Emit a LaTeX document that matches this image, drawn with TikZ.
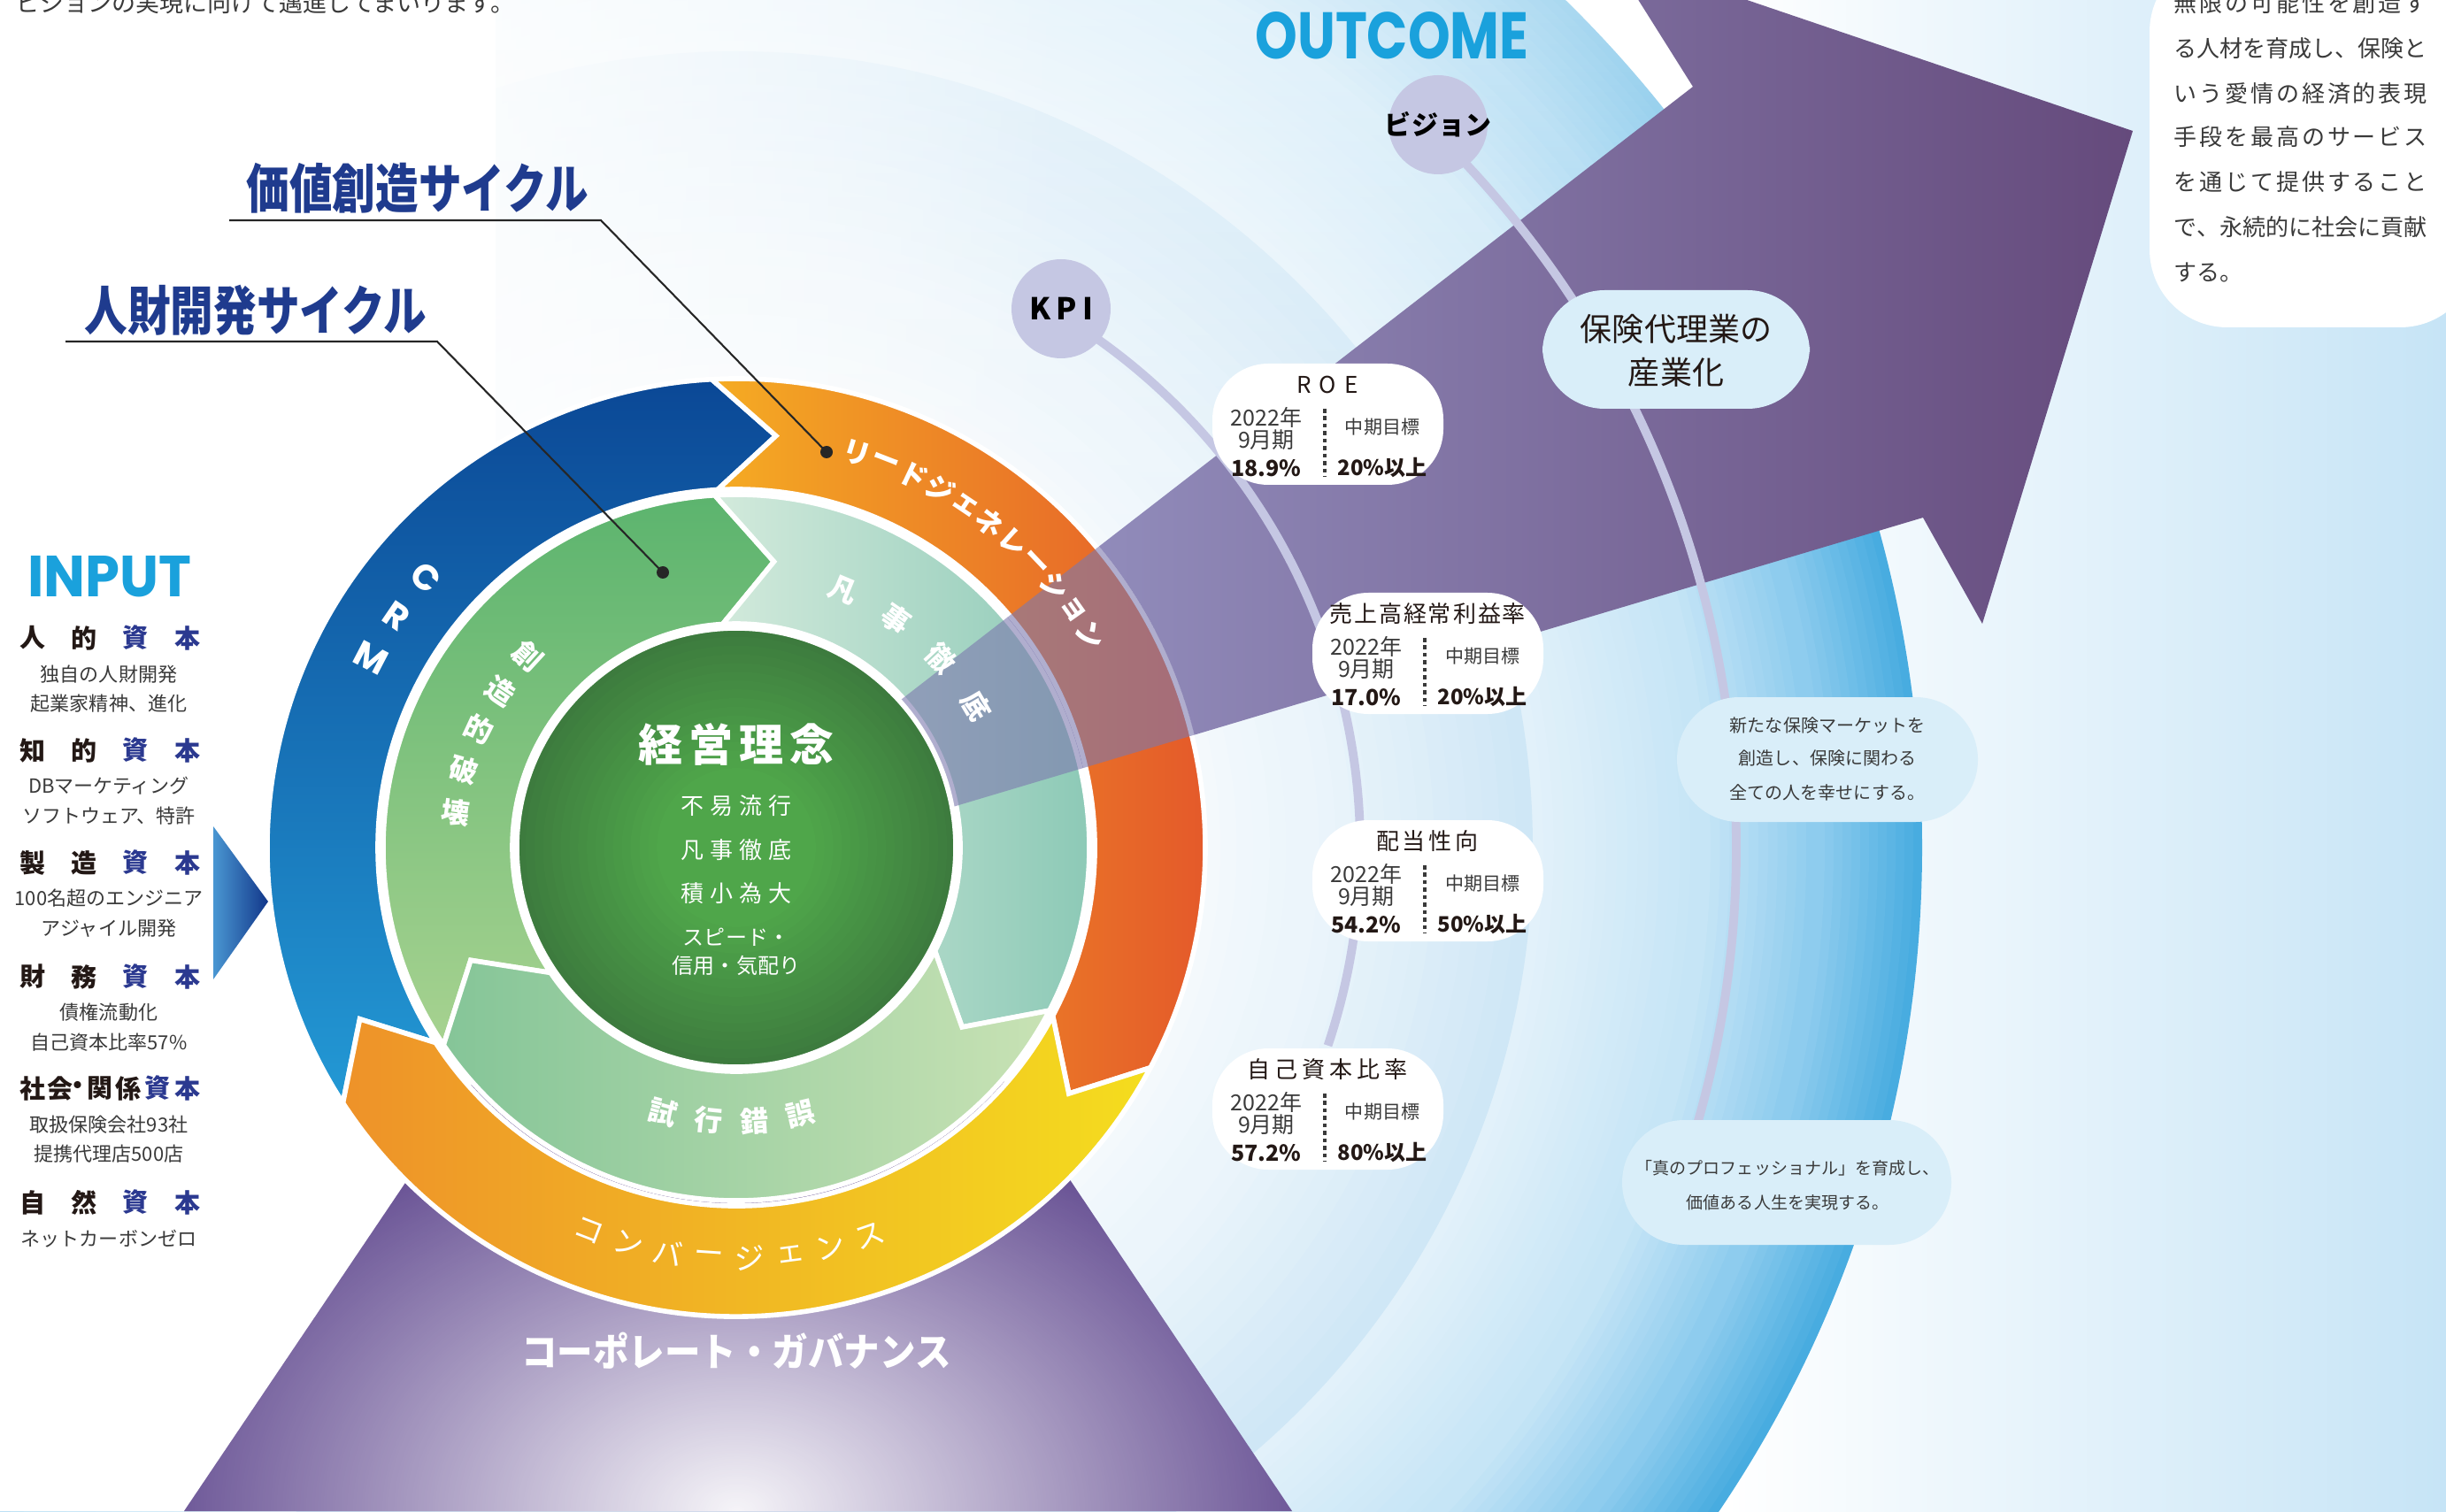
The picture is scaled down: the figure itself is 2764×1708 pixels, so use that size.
\documentclass[tikz,border=0pt]{standalone}
\usepackage{fontspec}
\usepackage{graphicx}
\setmainfont{Noto Sans CJK JP}
\newfontfamily\pop{Poppins}
\usetikzlibrary{fadings}

\definecolor{navyH}{HTML}{1F3B8E}
\definecolor{capblue}{HTML}{2B3990}
\definecolor{cyanT}{HTML}{1AA1DC}
\definecolor{txt}{HTML}{231815}
\definecolor{txt2}{HTML}{3A3A3A}
\definecolor{lav}{HTML}{C5C7E3}
\definecolor{boxb}{HTML}{D9EEF9}
\definecolor{crmT}{HTML}{0B4896}
\definecolor{crmB}{HTML}{2399D5}
\definecolor{ldL}{HTML}{F5AC23}
\definecolor{ldR}{HTML}{E4592A}
\definecolor{cvL}{HTML}{EE9229}
\definecolor{cvR}{HTML}{F4DD1E}
\definecolor{szT}{HTML}{5CB46E}
\definecolor{szB}{HTML}{A7D290}
\definecolor{bjL}{HTML}{D3EADC}
\definecolor{bjR}{HTML}{8CC9B6}
\definecolor{skL}{HTML}{85C598}
\definecolor{skR}{HTML}{C8E2B4}
\definecolor{cenin}{HTML}{4FA64A}
\definecolor{cenout}{HTML}{3D7B3E}
\definecolor{arrL}{HTML}{A0A2D0}
\definecolor{arrM}{HTML}{7A72A8}
\definecolor{arrR}{HTML}{654A7C}
\definecolor{arrT}{HTML}{7C78AE}
\definecolor{cgE}{HTML}{4A2F7F}
\definecolor{cgM}{HTML}{BCAAD4}
\definecolor{triL}{HTML}{4A97D2}
\definecolor{triR}{HTML}{12378A}
\definecolor{bgR}{HTML}{C6E4F6}
\definecolor{b2a}{HTML}{E2F1FA}
\definecolor{b2b}{HTML}{C6E5F6}
\definecolor{b2c}{HTML}{8ECCEE}
\definecolor{b2d}{HTML}{48ACE0}
\definecolor{d1a}{HTML}{ECF5FB}
\definecolor{d1b}{HTML}{CFE7F6}

\tikzfading[name=fadeR, left color=transparent!0, right color=transparent!100]
\tikzfading[name=fadeUp, bottom color=transparent!100, top color=transparent!0]
\tikzfading[name=glowfade, inner color=transparent!5, outer color=transparent!100]

\newdimen\pxu \pxu=0.01cm
\newcommand\fpx[1]{\fontsize{\fpeval{#1*0.28453}pt}{\fpeval{#1*0.28453*1.2}pt}\selectfont}
\def\sprA#1{\ifx#1\relax\else#1\hfil\expandafter\sprA\fi}
\newcommand\spread[2]{\makebox[#1\pxu][s]{\sprA#2\relax\unskip}}

% stepped radial gradient: centre, r from, r to, steps, colour at r-from, colour at r-to
\newcommand\radsteps[6]{%
\foreach \k in {0,...,#4}{%
  \pgfmathsetmacro\rr{#2+(#3-#2)*\k/(#4+1)}%
  \pgfmathtruncatemacro\pp{100-100*\k/#4}%
  \fill[#5!\pp!#6] #1 circle[radius=\rr];}}

% segment: tail angle, head angle, r inner, r outer, tip offset, style
\newcommand\seg[6]{%
\path[#6] (#1:#4) arc[start angle=#1, end angle=#2, radius=#4] -- ({#2-#5}:{(#3+#4)/2}) -- (#2:#3) arc[start angle=#2, end angle=#1, radius=#3] -- ({#1-#5}:{(#3+#4)/2}) -- cycle;}

% KPI box: x0, y0 (from top), title width, title, current, target
\newcommand\kpibox[6]{%
\fill[white, rounded corners=18] (#1,1708-#2) rectangle (#1+261,1708-#2-137);
\node[text=txt, font=\fpx{26}, inner sep=0] at (#1+130,1708-#2-24) {\spread{#3}{#4}};
\node[text=txt2, font=\fpx{25}, inner sep=0] at (#1+61,1708-#2-61) {2022年};
\node[text=txt2, font=\fpx{25}, inner sep=0] at (#1+61,1708-#2-86) {9月期};
\node[text=txt, font=\bfseries\fpx{25}, inner sep=0] at (#1+61,1708-#2-118) {#5};
\draw[txt2, line width=1.3pt, dash pattern=on 1.3pt off 1.1pt] (#1+127,1708-#2-51) -- (#1+127,1708-#2-128);
\node[text=txt2, font=\fpx{21}, inner sep=0] at (#1+192,1708-#2-72) {中期目標};
\node[text=txt, font=\bfseries\fpx{24}, inner sep=0] at (#1+192,1708-#2-118) {#6};}

\newcommand\caph[5]{%
\node[font=\bfseries\fpx{29}, text=txt, inner sep=0] at (37,#1) {#2};
\node[font=\bfseries\fpx{29}, text=txt, inner sep=0] at (95,#1) {#3};
\node[font=\bfseries\fpx{29}, text=capblue, inner sep=0] at (153,#1) {#4};
\node[font=\bfseries\fpx{29}, text=capblue, inner sep=0] at (212,#1) {#5};}
\newcommand\subl[2]{\node[font=\fpx{22}, text=txt2, inner sep=0] at (123,#1) {#2};}

\begin{document}
\begin{tikzpicture}[x=0.01cm, y=0.01cm,
  ringtxt/.style={text=white, font=\bfseries\fpx{32}, inner sep=0},
  segS/.style={draw=white, line width=1.6pt},
  track/.style={draw=lav, line width=2.8pt},
  lead/.style={draw=black!85, line width=0.6pt}]
\useasboundingbox (0,0) rectangle (2764,1708);
% ---------- background ----------
\fill[white] (0,0) rectangle (2764,1708);
\shade[left color=white, right color=bgR] (1950,0) rectangle (2764,1708);
% outcome band (r 900..1340)
\radsteps{(832,750)}{1340}{1220}{11}{b2d}{b2c}
\radsteps{(832,750)}{1220}{1090}{11}{b2c}{b2b}
\radsteps{(832,750)}{1090}{900}{15}{b2b}{b2a}
% KPI disc (r 0..900)
\radsteps{(832,750)}{900}{640}{13}{d1b}{d1a}
\radsteps{(832,750)}{640}{380}{13}{d1a}{white}
\fill[white] (832,750) circle[radius=380];
\fill[white] (0,0) rectangle (560,1708);
\fill[white, path fading=fadeR] (400,0) rectangle (1200,1708);
\fill[white, path fading=fadeUp, opacity=0.55] (560,1050) rectangle (1960,1708);

% ---------- corporate governance ----------
\shade[left color=cgE, middle color=cgM, right color=cgE] (208,0) -- (1460,0) -- (1086,558) -- (584,558) -- cycle;
\begin{scope}
\clip (208,0) -- (1460,0) -- (1086,558) -- (584,558) -- cycle;
\fill[white, path fading=glowfade] (832,0) ellipse[x radius=800, y radius=560];
\end{scope}
\node (cg) [text=white, font=\bfseries\fpx{44}, inner sep=0] at (832,181) {\scalebox{0.92}[1]{コーポレート・ガバナンス}};

% ---------- arrow (opaque) ----------
\shade[left color=arrL, middle color=arrM, right color=arrR] (832,723) -- (2173,1123) -- (2240,1003) -- (2410,1560) -- (1818,1761) -- (1913,1610) -- (832,773) -- cycle;

% ---------- rings ----------
\begin{scope}[shift={(832,750)}]
\seg{213}{93}{405}{530}{8.5}{segS, top color=crmT, bottom color=crmB}
\seg{93}{-28}{405}{530}{8.5}{segS, left color=ldL, right color=ldR}
\seg{-28}{-147}{405}{530}{8.5}{segS, left color=cvL, right color=cvR}
\seg{214}{93.5}{253}{399}{11}{segS, top color=szT, bottom color=szB}
\seg{93.5}{-27.5}{253}{399}{11}{segS, left color=bjL, right color=bjR}
\seg{-27.5}{-146}{253}{399}{11}{segS, left color=skL, right color=skR}
\end{scope}

% ---------- arrow (translucent over rings) ----------
\begin{scope}
\clip (832,750) circle[radius=533];
\fill[arrT, opacity=0.6] (832,723) -- (2173,1123) -- (2240,1003) -- (2410,1560) -- (1818,1761) -- (1913,1610) -- (832,773) -- cycle;
\end{scope}

% ---------- central circle ----------
\radsteps{(832,750)}{248}{80}{16}{cenout}{cenin}
\fill[cenin] (832,750) circle[radius=80];
\draw[white, line width=1.6pt] (832,750) circle[radius=248];

% ---------- ring labels ----------
\begin{scope}[shift={(832,750)}]
\foreach \ch/\a [count=\i] in {C/139, R/145.7, M/152.5}
  \node (crm\i) [ringtxt, font=\pop\bfseries\fpx{40}, rotate=\a-180] at (\a:465) {\ch};
\foreach \ch [count=\i from 0] in {リ,ー,ド,ジ,ェ,ネ,レ,ー,シ,ョ,ン}
  {\pgfmathsetmacro\a{73-4.2*\i}
   \node (lg\i) [ringtxt, rotate=\a-90] at (\a:466) {\ch};}
\foreach \ch [count=\i from 0] in {コ,ン,バ,ー,ジ,ェ,ン,ス}
  {\pgfmathsetmacro\a{-111+5.71*\i}
   \node (cv\i) [ringtxt, font=\fpx{34}, rotate=\a+90] at (\a:464) {\ch};}
\foreach \ch [count=\i from 0] in {創,造,的,破,壊}
  {\pgfmathsetmacro\a{137.5+8.85*\i}
   \node (sz\i) [ringtxt, rotate=\a-180] at (\a:320) {\ch};}
\foreach \ch [count=\i from 0] in {凡,事,徹,底}
  {\pgfmathsetmacro\a{67.4-12.3*\i}
   \node (bj\i) [ringtxt, rotate=\a-90] at (\a:315) {\ch};}
\foreach \ch [count=\i from 0] in {試,行,錯,誤}
  {\pgfmathsetmacro\a{254.5+9.67*\i}
   \node (sk\i) [ringtxt, rotate=\a+90] at (\a:310) {\ch};}
\end{scope}

% ---------- central texts ----------
\node (rinen) [text=white, font=\bfseries\fpx{50}, inner sep=0] at (832,867) {\spread{222}{経営理念}};
\node (c1) [text=white, font=\fpx{26}, inner sep=0] at (832,797) {\spread{125}{不易流行}};
\node (c2) [text=white, font=\fpx{26}, inner sep=0] at (832,747) {\spread{125}{凡事徹底}};
\node (c3) [text=white, font=\fpx{26}, inner sep=0] at (832,698) {\spread{125}{積小為大}};
\node (c4) [text=white, font=\fpx{24}, inner sep=0] at (832,649) {スピード・};
\node (c5) [text=white, font=\fpx{24}, inner sep=0] at (832,617) {信用・気配り};

% ---------- tracks ----------
\begin{scope}[shift={(832,750)}]
\draw[track] (59.5:705) arc[start angle=59.5, end angle=-18.5, radius=705];
\draw[track] (46:1130) arc[start angle=46, end angle=-17, radius=1130];
\end{scope}
\fill[lav] (1199,1359) circle[radius=56];
\node (kpi) [text=black, font=\bfseries\fpx{34}, inner sep=0] at (1199,1359) {\spread{72}{KPI}};
\fill[lav] (1625,1567) circle[radius=56];
\node (vis) [text=black, font=\bfseries\fpx{30}, inner sep=0] at (1625,1567) {ビジョン};

% ---------- KPI boxes ----------
\kpibox{1370}{411}{70}{ROE}{18.9\%}{20\%以上}
\kpibox{1483}{670}{222}{売上高経常利益率}{17.0\%}{20\%以上}
\kpibox{1483}{927}{116}{配当性向}{54.2\%}{50\%以上}
\kpibox{1370}{1185}{181}{自己資本比率}{57.2\%}{80\%以上}

% ---------- outcome boxes ----------
\fill[boxb, rounded corners=20] (1743,1380) rectangle (2045,1246);
\node (o1a) [text=txt, font=\fpx{36}, inner sep=0] at (1894,1336) {保険代理業の};
\node (o1b) [text=txt, font=\fpx{36}, inner sep=0] at (1894,1287) {産業化};
\fill[boxb, rounded corners=20] (1895,920) rectangle (2235,779);
\node (o2a) [text=txt2, font=\fpx{20}, inner sep=0] at (2065,888) {新たな保険マーケットを};
\node (o2b) [text=txt2, font=\fpx{20}, inner sep=0] at (2065,851) {創造し、保険に関わる};
\node (o2c) [text=txt2, font=\fpx{20}, inner sep=0] at (2065,812) {全ての人を幸せにする。};
\fill[boxb, rounded corners=20] (1833,442) rectangle (2205,301);
\node (o3a) [text=txt2, font=\fpx{19}, inner sep=0] at (2020,388) {「真のプロフェッショナル」を育成し、};
\node (o3b) [text=txt2, font=\fpx{19}, inner sep=0] at (2020,349) {価値ある人生を実現する。};

% ---------- OUTCOME / top-right box ----------
\node (outc) [text=cyanT, inner sep=0] at (1573,1668) {\resizebox{3.09cm}{0.53cm}{\pop\bfseries OUTCOME}};
\fill[white, rounded corners=25] (2429,1338) rectangle (2800,1760);
\node (m1) [anchor=west, text=txt2, font=\fpx{26}, inner sep=0] at (2456,1704) {\spread{286}{無限の可能性を創造す}};
\node (m2) [anchor=west, text=txt2, font=\fpx{26}, inner sep=0] at (2456,1653) {\spread{286}{る人材を育成し、保険と}};
\node (m3) [anchor=west, text=txt2, font=\fpx{26}, inner sep=0] at (2456,1602) {\spread{286}{いう愛情の経済的表現}};
\node (m4) [anchor=west, text=txt2, font=\fpx{26}, inner sep=0] at (2456,1553) {\spread{286}{手段を最高のサービス}};
\node (m5) [anchor=west, text=txt2, font=\fpx{26}, inner sep=0] at (2456,1502) {\spread{286}{を通じて提供すること}};
\node (m6) [anchor=west, text=txt2, font=\fpx{26}, inner sep=0] at (2456,1451) {\spread{286}{で、永続的に社会に貢献}};
\node (m7) [anchor=west, text=txt2, font=\fpx{26}, inner sep=0] at (2456,1400) {する。};

% ---------- top text ----------
\node (top) [anchor=west, text=txt2, font=\fpx{27}, inner sep=0] at (18,1705) {ビジョンの実現に向けて邁進してまいります。};

% ---------- cycle titles and leaders ----------
\node (kachi) [text=navyH, font=\bfseries\fpx{60}, inner sep=0] at (472,1495) {\scalebox{0.81}[1]{価値創造サイクル}};
\node (jinzai) [text=navyH, font=\bfseries\fpx{60}, inner sep=0] at (289,1357) {\scalebox{0.81}[1]{人財開発サイクル}};
\coordinate (d1) at (934,1197);
\coordinate (d2) at (749,1061);
\draw[lead] (259,1459) -- (679,1459) -- (d1);
\draw[lead] (74,1322) -- (494,1322) -- (d2);
\fill[black!85] (d1) circle[radius=7];
\fill[black!85] (d2) circle[radius=7];

% ---------- INPUT ----------
\node (inp) [text=cyanT, inner sep=0] at (124,1056) {\resizebox{1.85cm}{0.46cm}{\pop\bfseries INPUT}};
\caph{987}{人}{的}{資}{本}
\subl{946}{独自の人財開発}
\subl{913}{起業家精神、進化}
\caph{860}{知}{的}{資}{本}
\subl{820}{DBマーケティング}
\subl{786}{ソフトウェア、特許}
\caph{733}{製}{造}{資}{本}
\subl{693}{100名超のエンジニア}
\subl{659}{アジャイル開発}
\caph{604}{財}{務}{資}{本}
\subl{564}{債権流動化}
\subl{530}{自己資本比率57\%}
\foreach \ch/\x [count=\i] in {社/37, 会/68, ・/88, 関/113, 係/145}
  \node (sa\i) [font=\bfseries\fpx{29}, text=txt, inner sep=0] at (\x,478) {\ch};
\node (saS) [font=\bfseries\fpx{29}, text=capblue, inner sep=0] at (178,478) {資};
\node (saH) [font=\bfseries\fpx{29}, text=capblue, inner sep=0] at (212,478) {本};
\subl{437}{取扱保険会社93社}
\subl{404}{提携代理店500店}
\caph{349}{自}{然}{資}{本}
\subl{308}{ネットカーボンゼロ}
\shade[left color=triL, right color=triR] (241,774) -- (303,689) -- (241,601) -- cycle;
\end{tikzpicture}
\end{document}
